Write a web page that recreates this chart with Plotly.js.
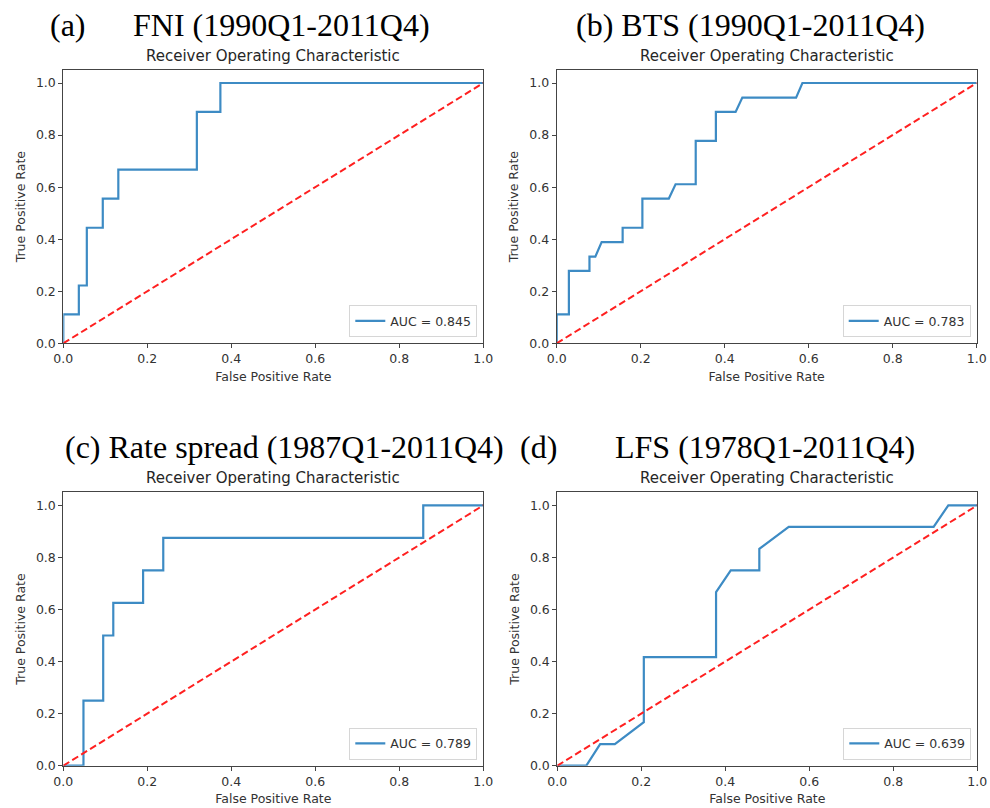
<!DOCTYPE html>
<html>
<head>
<meta charset="utf-8">
<script src="https://cdn.plot.ly/plotly-3.0.1.min.js"></script>
<style>html,body{margin:0;padding:0;background:#fff;}#chart{width:990px;height:808px;}</style>
</head>
<body>
<div id="chart"></div>
<script>
// ---- data ----
const panelLabels = ["(a)", "(b)", "(c)", "(d)"];
const panelNames = ["FNI (1990Q1-2011Q4)", "BTS (1990Q1-2011Q4)", "Rate spread (1987Q1-2011Q4)", "LFS (1978Q1-2011Q4)"];
const aucLabels = ["AUC = 0.845", "AUC = 0.783", "AUC = 0.789", "AUC = 0.639"];

const fprA = [0, 0, 0.037, 0.037, 0.056, 0.056, 0.094, 0.094, 0.131, 0.131, 0.318, 0.318, 0.374, 0.374, 1];
const tprA = [0, 0.111, 0.111, 0.222, 0.222, 0.444, 0.444, 0.556, 0.556, 0.667, 0.667, 0.889, 0.889, 1, 1];

const fprB = [0, 0, 0.029, 0.029, 0.078, 0.078, 0.092, 0.107, 0.157, 0.157, 0.204, 0.204, 0.267, 0.283, 0.331, 0.331, 0.379, 0.379, 0.426, 0.442, 0.570, 0.585, 1];
const tprB = [0, 0.111, 0.111, 0.278, 0.278, 0.333, 0.333, 0.389, 0.389, 0.444, 0.444, 0.556, 0.556, 0.611, 0.611, 0.778, 0.778, 0.889, 0.889, 0.944, 0.944, 1, 1];

const fprC = [0, 0.048, 0.048, 0.095, 0.095, 0.119, 0.119, 0.190, 0.190, 0.238, 0.238, 0.857, 0.857, 1];
const tprC = [0, 0, 0.25, 0.25, 0.5, 0.5, 0.625, 0.625, 0.75, 0.75, 0.875, 0.875, 1, 1];

const fprD = [0, 0.069, 0.102, 0.137, 0.206, 0.206, 0.378, 0.378, 0.413, 0.481, 0.481, 0.551, 0.896, 0.931, 1];
const tprD = [0, 0, 0.083, 0.083, 0.167, 0.417, 0.417, 0.667, 0.75, 0.75, 0.833, 0.917, 0.917, 1, 1];

const diagX = [0, 1];
const diagY = [0, 1];
const tickVals = [0, 0.2, 0.4, 0.6, 0.8, 1.0];

// ---- layout helpers ----
const W = 990, H = 808;
const boxes = [
  {x0: 63.3, x1: 483.3, top: 70, bot: 343.3},
  {x0: 556.7, x1: 976.7, top: 70, bot: 343.3},
  {x0: 63.3, x1: 483.3, top: 492.3, bot: 765.7},
  {x0: 557.3, x1: 977.3, top: 492.3, bot: 765.7}
];
const fprs = [fprA, fprB, fprC, fprD];
const tprs = [tprA, tprB, tprC, tprD];

const traces = [];
const layout = {
  width: W, height: H,
  margin: {l: 0, r: 0, t: 0, b: 0},
  paper_bgcolor: '#fff', plot_bgcolor: '#fff',
  font: {family: 'DejaVu Sans', color: '#262626', size: 12},
  showlegend: true,
  annotations: []
};

const tickFont = {family: 'DejaVu Sans', size: 12.5, color: '#333'};

boxes.forEach((b, i) => {
  const n = i + 1;
  const xa = n === 1 ? 'x' : 'x' + n;
  const ya = n === 1 ? 'y' : 'y' + n;
  const lg = n === 1 ? 'legend' : 'legend' + n;
  traces.push({
    x: fprs[i], y: tprs[i], type: 'scatter', mode: 'lines',
    line: {color: '#3d8bc4', width: 2.2, shape: 'linear'},
    name: aucLabels[i], xaxis: xa, yaxis: ya, legend: lg, showlegend: true
  });
  traces.push({
    x: diagX, y: diagY, type: 'scatter', mode: 'lines',
    line: {color: '#ff2020', width: 2, dash: '7px,3.5px'},
    xaxis: xa, yaxis: ya, showlegend: false, hoverinfo: 'skip'
  });
  const axCommon = {
    showgrid: false, zeroline: false, showline: true, mirror: true,
    linecolor: '#444', linewidth: 1, ticks: 'outside', ticklen: 4, tickwidth: 1,
    tickcolor: '#444', tickvals: tickVals, tickformat: '.1f', tickfont: tickFont,
    fixedrange: true
  };
  layout[n === 1 ? 'xaxis' : 'xaxis' + n] = Object.assign({}, axCommon, {
    domain: [b.x0 / W, b.x1 / W], range: [0, 1], anchor: ya,
    title: {text: 'False Positive Rate', font: {family: 'DejaVu Sans', size: 12.5, color: '#333'}, standoff: 6}
  });
  layout[n === 1 ? 'yaxis' : 'yaxis' + n] = Object.assign({}, axCommon, {
    domain: [1 - b.bot / H, 1 - b.top / H], range: [0, 1.05], anchor: xa,
    title: {text: 'True Positive Rate', font: {family: 'DejaVu Sans', size: 12.5, color: '#333'}, standoff: 7}
  });
  layout[lg] = {
    x: (b.x1 - 6) / W, xanchor: 'right', y: 1 - (b.bot - 6) / H, yanchor: 'bottom',
    bgcolor: '#fff', bordercolor: '#d6d6d6', borderwidth: 1,
    font: {family: 'DejaVu Sans', size: 12.5, color: '#333'},
    itemwidth: 30, tracegroupgap: 0
  };
  layout.annotations.push({
    text: 'Receiver Operating Characteristic', xref: 'paper', yref: 'paper',
    x: (b.x0 + b.x1) / 2 / W, y: 1 - (b.top - 3) / H, xanchor: 'center', yanchor: 'bottom',
    showarrow: false, font: {family: 'DejaVu Sans', size: 15, color: '#262626'}
  });
});

// panel titles (serif): label and name positioned separately
const labelPos = [{x: 67.5, y: 25}, {x: 593, y: 25}, {x: 83, y: 447}, {x: 538, y: 447}];
const namePos = [{x: 281, y: 25}, {x: 768, y: 25}, {x: 302, y: 447}, {x: 765, y: 447}];
const serif = {family: 'Liberation Serif', size: 32, color: '#000'};
panelLabels.forEach((t, i) => {
  if (i === 1 || i === 2) {
    layout.annotations.push({
      text: t + ' ' + panelNames[i], xref: 'paper', yref: 'paper',
      x: (i === 1 ? 750 : 284) / W, y: 1 - labelPos[i].y / H,
      xanchor: 'center', yanchor: 'middle', showarrow: false, font: serif
    });
  } else {
    layout.annotations.push({
      text: t, xref: 'paper', yref: 'paper', x: labelPos[i].x / W, y: 1 - labelPos[i].y / H,
      xanchor: 'center', yanchor: 'middle', showarrow: false, font: serif
    });
    layout.annotations.push({
      text: panelNames[i], xref: 'paper', yref: 'paper', x: namePos[i].x / W, y: 1 - namePos[i].y / H,
      xanchor: 'center', yanchor: 'middle', showarrow: false, font: serif
    });
  }
});

Plotly.newPlot('chart', traces, layout, {displayModeBar: false, staticPlot: true});
</script>
</body>
</html>
